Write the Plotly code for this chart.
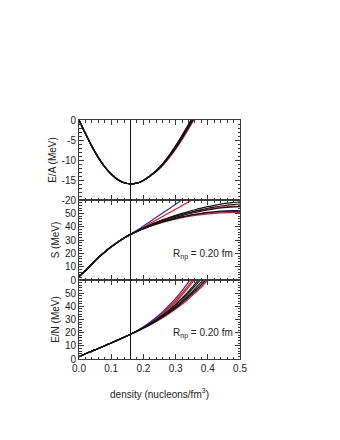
import plotly.graph_objects as go

# ----------------------------------------
# DATA
# ----------------------------------------
RHO = [0.00, 0.02, 0.04, 0.06, 0.08, 0.10, 0.12, 0.14, 0.16, 0.18, 0.20, 0.22, 0.24,
       0.26, 0.28, 0.30, 0.32, 0.34, 0.36, 0.38, 0.40, 0.42, 0.44, 0.46, 0.48, 0.50]

# E/A of symmetric matter (MeV)
EA_BLACK = [
    [0, -3.4, -6.6, -9.4, -11.7, -13.5, -14.9, -15.7, -16.0, -15.8, -15.1, -14.0, -12.6, -10.9, -8.8, -6.4, -3.8, -1.1, 1.8],
    [0, -3.4, -6.6, -9.4, -11.7, -13.5, -14.9, -15.7, -16.0, -15.8, -15.1, -14.0, -12.7, -11.0, -9.0, -6.7, -4.1, -1.4, 1.4],
    [0, -3.4, -6.6, -9.4, -11.7, -13.5, -14.9, -15.7, -16.0, -15.8, -15.1, -14.0, -12.7, -11.1, -9.1, -6.9, -4.4, -1.7, 1.1],
    [0, -3.4, -6.6, -9.4, -11.7, -13.5, -14.9, -15.7, -16.0, -15.8, -15.1, -14.0, -12.8, -11.2, -9.3, -7.1, -4.6, -1.9, 0.9],
]
EA_RED = [
    [0, -3.4, -6.6, -9.4, -11.7, -13.5, -14.9, -15.7, -16.0, -15.8, -15.1, -14.1, -12.9, -11.4, -9.5, -7.3, -4.9, -2.3, 0.5],
    [0, -3.4, -6.6, -9.4, -11.7, -13.5, -14.9, -15.7, -16.0, -15.8, -15.1, -14.0, -12.7, -11.0, -9.0, -6.7, -4.2, -1.5, 1.4],
]
EA_BLUE = [
    [0, -3.4, -6.6, -9.4, -11.7, -13.5, -14.9, -15.7, -16.0, -15.8, -15.1, -14.0, -12.8, -11.2, -9.2, -6.9, -4.5, -1.8, 1.0],
]

# symmetry energy S (MeV)
S_BLACK = [
    [2.5, 7.0, 12.0, 16.8, 21.0, 24.9, 28.4, 31.5, 34.2, 36.7, 39.0, 41.2, 43.2, 45.1, 46.9, 48.5, 50.0, 51.4, 52.7, 53.9, 55.0, 56.0, 56.9, 57.6, 58.2, 58.7],
    [2.5, 7.0, 12.0, 16.8, 21.0, 24.9, 28.4, 31.5, 34.2, 36.6, 38.8, 40.9, 42.8, 44.6, 46.3, 47.8, 49.2, 50.5, 51.7, 52.8, 53.8, 54.7, 55.5, 56.1, 56.6, 57.0],
    [2.5, 7.0, 12.0, 16.8, 21.0, 24.9, 28.4, 31.5, 34.2, 36.5, 38.6, 40.6, 42.4, 44.1, 45.6, 47.0, 48.3, 49.5, 50.6, 51.6, 52.5, 53.3, 54.0, 54.5, 54.8, 55.0],
    [2.5, 7.0, 12.0, 16.8, 21.0, 24.9, 28.4, 31.5, 34.2, 36.4, 38.4, 40.3, 42.0, 43.5, 44.9, 46.2, 47.3, 48.3, 49.2, 50.0, 50.7, 51.2, 51.6, 51.9, 52.0, 52.0],
]
S_RED = [
    [2.5, 7.0, 12.0, 16.8, 21.0, 24.9, 28.4, 31.5, 34.2, 36.9, 39.6, 42.3, 45.0, 47.7, 50.4, 53.1, 55.8, 58.5, 61.2],
    [2.5, 7.0, 12.0, 16.8, 21.0, 24.9, 28.4, 31.5, 34.2, 36.7, 39.1, 41.3, 43.3, 45.1, 46.7, 48.1, 49.3, 50.4, 51.4, 52.3, 53.1, 53.8, 54.4, 54.9, 55.3, 55.5],
    [2.5, 7.0, 12.0, 16.8, 21.0, 24.9, 28.4, 31.5, 34.2, 36.3, 38.3, 40.1, 41.7, 43.2, 44.5, 45.7, 46.7, 47.6, 48.4, 49.0, 49.6, 50.0, 50.3, 50.5, 50.6, 50.5],
]
S_BLUE = [
    [2.5, 7.0, 12.0, 16.8, 21.0, 24.9, 28.4, 31.5, 34.2, 37.3, 40.5, 43.7, 47.0, 50.3, 53.5, 56.8, 60.1, 63.4],
    [2.5, 7.0, 12.0, 16.8, 21.0, 24.9, 28.4, 31.5, 34.2, 36.4, 38.5, 40.4, 42.1, 43.6, 45.0, 46.2, 47.3, 48.2, 49.0, 49.7, 50.3, 50.8, 51.1, 51.3, 51.5, 51.5],
]

# E/N of neutron matter (MeV)
EN_BLACK = [
    [1.8, 4.0, 6.0, 8.0, 10.1, 12.2, 14.3, 16.5, 18.8, 21.2, 23.8, 26.7, 29.9, 33.4, 37.3, 41.6, 46.3, 51.4, 56.9, 62.8],
    [1.8, 4.0, 6.0, 8.0, 10.1, 12.2, 14.3, 16.5, 18.8, 21.2, 23.7, 26.5, 29.6, 33.0, 36.7, 40.8, 45.3, 50.1, 55.3, 60.9, 66.8],
    [1.8, 4.0, 6.0, 8.0, 10.1, 12.2, 14.3, 16.5, 18.8, 21.1, 23.6, 26.3, 29.2, 32.4, 35.9, 39.7, 43.9, 48.4, 53.3, 58.5, 64.0],
    [1.8, 4.0, 6.0, 8.0, 10.1, 12.2, 14.3, 16.5, 18.8, 21.1, 23.5, 26.1, 28.9, 32.0, 35.3, 38.9, 42.9, 47.2, 51.8, 56.7, 61.9],
]
EN_RED = [
    [1.8, 4.0, 6.0, 8.0, 10.1, 12.2, 14.3, 16.5, 18.8, 21.4, 24.2, 27.4, 31.0, 35.0, 39.5, 44.5, 50.0, 56.0, 62.5],
    [1.8, 4.0, 6.0, 8.0, 10.1, 12.2, 14.3, 16.5, 18.8, 21.3, 24.0, 27.0, 30.4, 34.2, 38.5, 43.3, 48.6, 54.4, 60.7],
    [1.8, 4.0, 6.0, 8.0, 10.1, 12.2, 14.3, 16.5, 18.8, 21.0, 23.3, 25.8, 28.5, 31.4, 34.5, 37.9, 41.6, 45.6, 50.0, 54.7, 59.7, 65.0],
]
EN_BLUE = [
    [1.8, 4.0, 6.0, 8.0, 10.1, 12.2, 14.3, 16.5, 18.8, 21.5, 24.5, 27.9, 31.7, 36.0, 40.8, 46.1, 52.0, 58.4, 65.3],
    [1.8, 4.0, 6.0, 8.0, 10.1, 12.2, 14.3, 16.5, 18.8, 21.1, 23.5, 26.1, 28.9, 31.9, 35.1, 38.7, 42.6, 46.8, 51.3, 56.1, 61.2],
]

RHO_0 = 0.16
X_TICKS = [0.0, 0.1, 0.2, 0.3, 0.4, 0.5]
X_LABELS = ["0.0", "0.1", "0.2", "0.3", "0.4", "0.5"]
EA_TICKS = [0, -5, -10, -15, -20]
EA_LABELS = ["0", "-5", "-10", "-15", "-20"]
S_TICKS = [0, 10, 20, 30, 40, 50, 60]
S_LABELS = ["0", "10", "20", "30", "40", "50", ""]

BLACK = "#141414"
RED = "#e3161e"
BLUE = "#2b31a6"
FRAME = "#3a3a3a"
FONT = "Liberation Sans, Arial, sans-serif"

fig = go.Figure()

# panel -> (y axis name, colour groups)
panels = [
    ("y3", [(EA_RED, RED), (EA_BLUE, BLUE), (EA_BLACK, BLACK)]),
    ("y2", [(S_RED, RED), (S_BLUE, BLUE), (S_BLACK, BLACK)]),
    ("y", [(EN_RED, RED), (EN_BLUE, BLUE), (EN_BLACK, BLACK)]),
]
xname = {"y": "x", "y2": "x2", "y3": "x3"}
for yname, groups in panels:
    for curves, col in groups:
        for vals in curves:
            fig.add_trace(go.Scatter(
                x=RHO[:len(vals)], y=vals, mode="lines",
                line=dict(color=col, width=1.2, shape="spline"),
                xaxis=xname[yname], yaxis=yname, showlegend=False, hoverinfo="skip",
            ))

# layout geometry: the page body adds 8px, so plot area lands at 79..240 x 120..359
H = 239.0
dom_bottom = [0, 79 / H]
dom_mid = [79 / H, 159 / H]
dom_top = [159 / H, 1]

common_x = dict(
    range=[0, 0.5], tickvals=X_TICKS, ticks="inside", ticklen=5, tickcolor=FRAME,
    showline=True, linecolor=FRAME, linewidth=1, mirror="allticks", showgrid=False,
    zeroline=False, minor=dict(dtick=0.02, ticks="inside", ticklen=2.5, tickcolor=FRAME),
    tickfont=dict(size=10, color="#222", family=FONT), automargin=False,
)
common_y = dict(
    ticks="inside", ticklen=5, tickcolor=FRAME, showline=True, linecolor=FRAME,
    linewidth=1, mirror="allticks", showgrid=False, zeroline=False,
    tickfont=dict(size=10, color="#222", family=FONT), automargin=False,
    title_font=dict(size=10, color="#222", family=FONT), title_standoff=3,
)

fig.update_layout(
    width=332, height=432,
    margin=dict(l=71, r=100, t=112, b=81),
    paper_bgcolor="white", plot_bgcolor="white",
    font=dict(family=FONT, size=10, color="#222"),
    xaxis=dict(common_x, anchor="y", ticktext=X_LABELS,
               title=dict(text="density (nucleons/fm<sup>3</sup>)", font=dict(size=10, family=FONT, color="#222"), standoff=17)),
    xaxis2=dict(common_x, anchor="y2", matches="x", showticklabels=False),
    xaxis3=dict(common_x, anchor="y3", matches="x", showticklabels=False),
    yaxis=dict(common_y, domain=dom_bottom, anchor="x", range=[0, 60],
               tickvals=S_TICKS, ticktext=S_LABELS, minor=dict(dtick=2, ticks="inside", ticklen=2.5, tickcolor=FRAME),
               title=dict(text="E/N (MeV)")),
    yaxis2=dict(common_y, domain=dom_mid, anchor="x2", range=[0, 60],
                tickvals=S_TICKS, ticktext=S_LABELS, minor=dict(dtick=2, ticks="inside", ticklen=2.5, tickcolor=FRAME),
                title=dict(text="S (MeV)")),
    yaxis3=dict(common_y, domain=dom_top, anchor="x3", range=[-20, 0],
                tickvals=EA_TICKS, ticktext=EA_LABELS, minor=dict(dtick=1, ticks="inside", ticklen=2.5, tickcolor=FRAME),
                title=dict(text="E/A (MeV)")),
)

# saturation density marker through all three panels
fig.add_shape(type="line", xref="x", yref="paper", x0=RHO_0, x1=RHO_0, y0=0, y1=1,
              line=dict(color=BLACK, width=1))

for yref in ["y2", "y"]:
    fig.add_annotation(x=0.485, y=19.5, xref="x", yref=yref, xanchor="right", yanchor="middle",
                       text="R<sub>np</sub> = 0.20 fm", showarrow=False,
                       font=dict(size=10, family=FONT, color="#222"))

fig.write_html("out.html")
